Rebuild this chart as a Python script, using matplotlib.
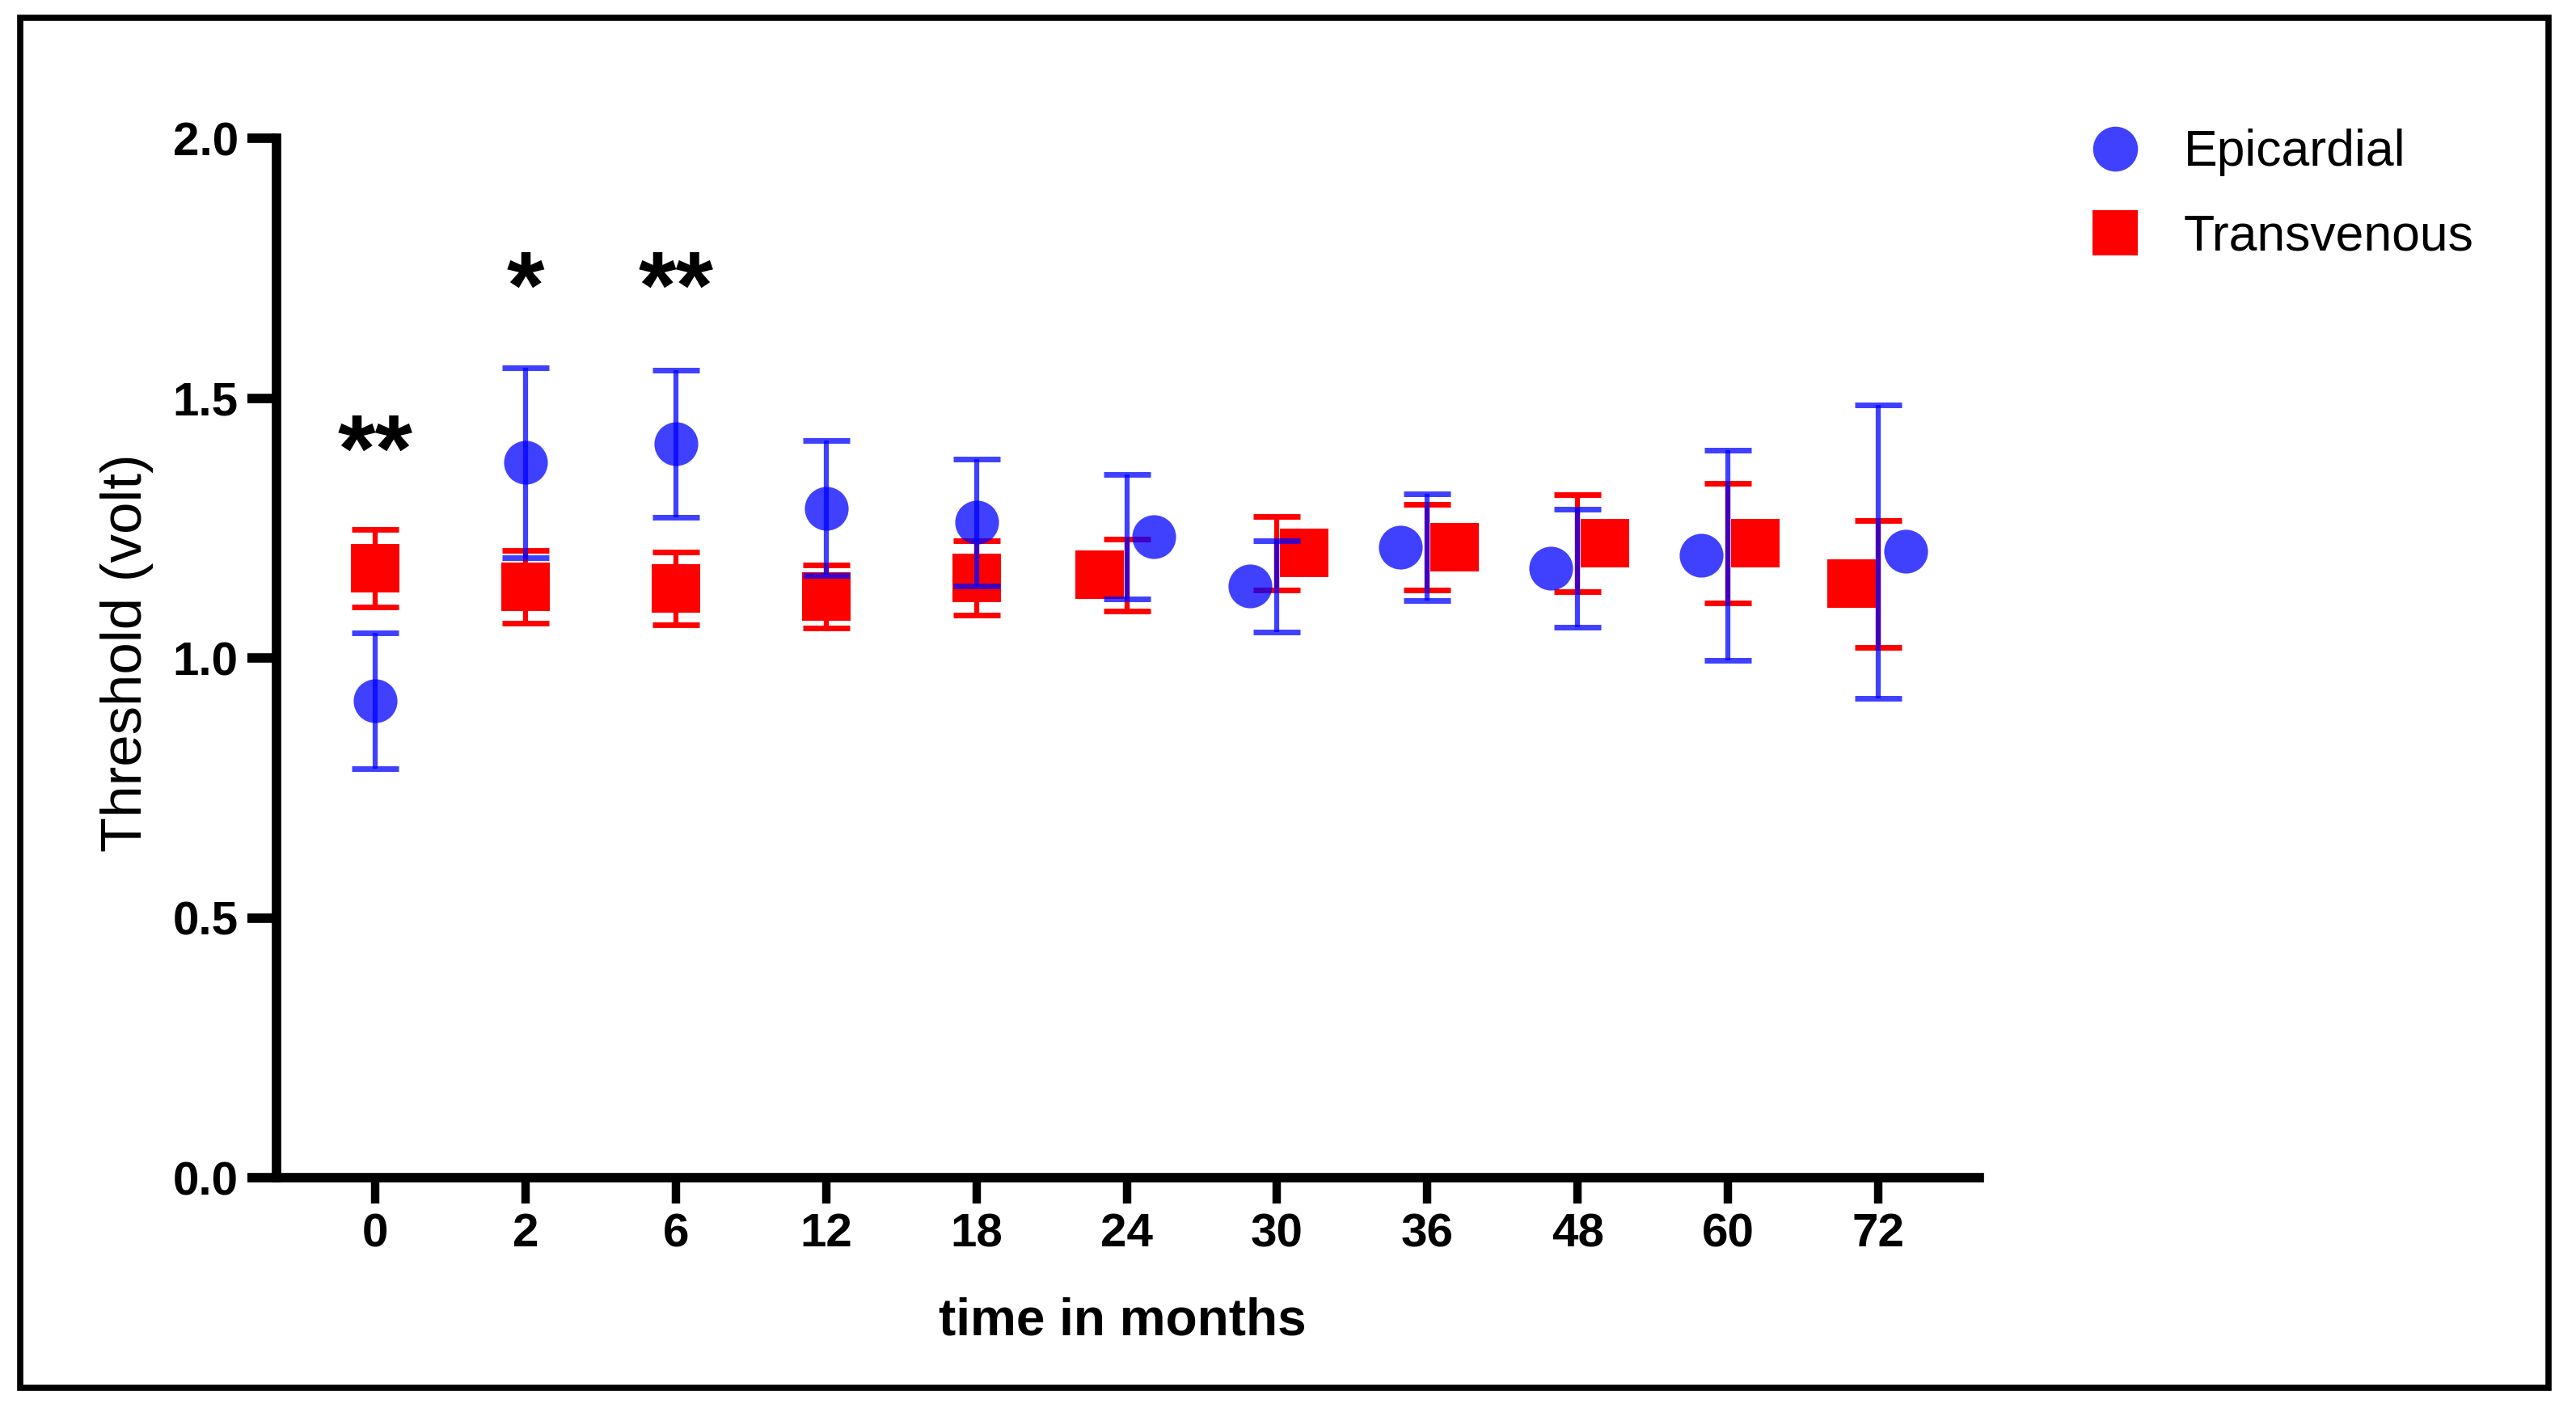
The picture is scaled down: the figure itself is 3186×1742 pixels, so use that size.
import numpy as np
import matplotlib
matplotlib.use("Agg")
import matplotlib.pyplot as plt
from matplotlib.lines import Line2D
from matplotlib.patches import Rectangle

plt.rcParams['font.family'] = ['Liberation Sans', 'DejaVu Sans']

# data (mean +/- SEM, volt)
months = ["0", "2", "6", "12", "18", "24", "30", "36", "48", "60", "72"]
epi_mean = [0.918, 1.376, 1.412, 1.288, 1.261, 1.233, 1.138, 1.213, 1.173, 1.198, 1.205]
epi_sem = [0.131, 0.183, 0.141, 0.130, 0.122, 0.120, 0.088, 0.103, 0.114, 0.202, 0.282]
trans_mean = [1.173, 1.137, 1.134, 1.118, 1.154, 1.160, 1.202, 1.213, 1.221, 1.221, 1.143]
trans_sem = [0.075, 0.070, 0.070, 0.061, 0.071, 0.069, 0.071, 0.083, 0.094, 0.115, 0.122]
stars = ["**", "*", "**"]
star_y = [1.339, 1.654, 1.654]

# marker dodge used by the original plot (-1 left, +1 right of the tick)
epi_side = [0, 0, 0, 0, 0, 1, -1, -1, -1, -1, 1]
dodge = 0.18

x = np.arange(len(months))
epi_x = x + dodge * np.array(epi_side)
trans_x = x - dodge * np.array(epi_side)

blue = (0, 0, 1, 0.75)
red = (1, 0, 0, 1)

fig = plt.figure(figsize=(31.86, 17.42), dpi=100)
ax = fig.add_axes([0.1073, 0.1636, 0.6610, 0.7382])

# transvenous first, epicardial drawn over it
ax.errorbar(x, trans_mean, yerr=trans_sem, fmt='none', ecolor=red,
            elinewidth=4.5, capsize=21, capthick=5)
ax.plot(trans_x, trans_mean, 's', color=red, markersize=43, markeredgewidth=0)
ax.errorbar(x, epi_mean, yerr=epi_sem, fmt='none', ecolor=blue,
            elinewidth=4.5, capsize=21, capthick=5)
ax.plot(epi_x, epi_mean, 'o', color=blue, markersize=39, markeredgewidth=0)

for i, s in enumerate(stars):
    ax.text(x[i], star_y[i], s, ha='center', va='baseline',
            fontsize=86, fontweight='bold')

ax.set_xlim(-0.656, 10.67)
ax.set_ylim(0, 2.0)
ax.set_xticks(x)
ax.set_xticklabels(months)
ax.set_yticks([0.0, 0.5, 1.0, 1.5, 2.0])
ax.set_yticklabels(["0.0", "0.5", "1.0", "1.5", "2.0"])

for side in ['top', 'right']:
    ax.spines[side].set_visible(False)
for side in ['left', 'bottom']:
    ax.spines[side].set_linewidth(8.4)
    ax.spines[side].set_capstyle('projecting')

ax.tick_params(axis='x', length=23, width=7.5, pad=8, labelsize=42)
ax.tick_params(axis='y', length=26, width=8.4, pad=8, labelsize=42)
for lab in ax.get_xticklabels() + ax.get_yticklabels():
    lab.set_fontweight('bold')

ax.set_ylabel("Threshold (volt)", fontsize=51)
ax.yaxis.set_label_coords(-0.072, 0.505)
ax.set_xlabel("time in months", fontsize=46, fontweight='bold')
ax.xaxis.set_label_coords(0.497, -0.115)

handles = [
    Line2D([], [], marker='o', ls='none', color=blue, markersize=40, markeredgewidth=0),
    Line2D([], [], marker='s', ls='none', color=red, markersize=41, markeredgewidth=0),
]
fig.legend(handles, ["Epicardial", "Transvenous"], loc='center left',
           bbox_to_anchor=(0.8112, 0.8617), frameon=False, fontsize=45,
           handlelength=1.0, handletextpad=0.86, labelspacing=0.72,
           borderpad=0, borderaxespad=0)

# outer frame around the whole figure
fig.patches.append(Rectangle((25 / 3186, 1 - 1717 / 1742),
                             (3152 - 25) / 3186, (1717 - 22) / 1742,
                             transform=fig.transFigure, fill=False,
                             edgecolor='black', linewidth=5.5))

fig.savefig("out.png", dpi=100)
